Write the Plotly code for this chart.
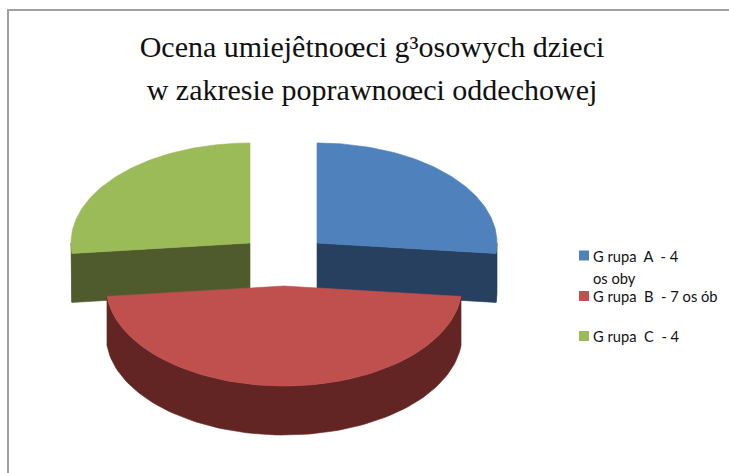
import numpy as np
import plotly.graph_objects as go

# Data
groups = ["Grupa A", "Grupa B", "Grupa C"]
values = [4, 7, 4]
legend_lines = [["G rupa  A  - 4", "os oby"], ["G rupa  B  - 7 os ób"], ["G rupa  C  - 4"]]
top_colors = ["#4F81BD", "#C0504D", "#9BBB59"]
wall_colors = ["#28405F", "#632523", "#4F5B2C"]
title_lines = ["Ocena umiejêtnoœci g³osowych dzieci", "w zakresie poprawnoœci oddechowej"]

W, H = 729, 473
DEPTH = 49
RX = [180, 178, 179]
RY = [100, 100, 100]
CENTERS = [(317, 243), (284, 286), (250, 243)]

total = sum(values)
edges = np.concatenate([[0], np.cumsum(values)]) / total * 2 * np.pi


def arc(i, a0, a1, n=90):
    t = np.linspace(a0, a1, n)
    cx, cy = CENTERS[i]
    return cx + RX[i] * np.sin(t), cy - RY[i] * np.cos(t)


def wedge_top(i):
    x, y = arc(i, edges[i], edges[i + 1])
    cx, cy = CENTERS[i]
    return np.r_[cx, x, cx], np.r_[cy, y, cy]


def cut_face(i, a):
    x, y = arc(i, a, a, 1)
    cx, cy = CENTERS[i]
    return (np.r_[cx, x, x, cx, cx],
            np.r_[cy, y, y + DEPTH, cy + DEPTH, cy])


def outer_wall(i):
    a0 = max(edges[i], np.pi / 2)
    a1 = min(edges[i + 1], 3 * np.pi / 2)
    x, y = arc(i, a0, a1)
    return np.r_[x, x[::-1], x[0]], np.r_[y, y[::-1] + DEPTH, y[0]]


fig = go.Figure()


def poly(xy, color, name):
    fig.add_trace(go.Scatter(x=xy[0], y=xy[1], mode="lines", fill="toself",
                             fillcolor=color, line=dict(width=0.6, color=color),
                             hoverinfo="skip", showlegend=False, name=name))


# back pair first, red wedge on top of both
for i, a in [(0, edges[1]), (2, edges[2])]:
    poly(outer_wall(i), wall_colors[i], groups[i])
    poly(cut_face(i, a), wall_colors[i], groups[i])
    poly(wedge_top(i), top_colors[i], groups[i])
poly(outer_wall(1), wall_colors[1], groups[1])
poly(wedge_top(1), top_colors[1], groups[1])

# legend
LEG_X, LEG_Y = 584, [255.5, 296, 336]
fig.add_trace(go.Scatter(x=[LEG_X] * 3, y=LEG_Y, mode="markers",
                         marker=dict(symbol="square", size=10, color=top_colors),
                         hoverinfo="skip", showlegend=False))
annotations = []
for y0, lines in zip(LEG_Y, legend_lines):
    for k, line in enumerate(lines):
        annotations.append(dict(x=593, y=y0 + k * 22, text=line, xref="x", yref="y",
                                xanchor="left", yanchor="middle", showarrow=False,
                                xshift=-2,
                                font=dict(family="Lato", size=14.7, color="#111111")))

title_html = "<br>".join(f'<span style="font-size:30px">{t}</span>' for t in title_lines)

fig.update_layout(
    width=W, height=H, margin=dict(l=0, r=0, t=0, b=0),
    paper_bgcolor="white", plot_bgcolor="white", showlegend=False,
    title=dict(text=title_html, x=372 / W, xanchor="center",
               y=1 - 57 / H, yanchor="top",
               font=dict(family="Liberation Serif", size=33, color="#111111")),
    xaxis=dict(range=[0, W], visible=False, fixedrange=True),
    yaxis=dict(range=[H, 0], visible=False, fixedrange=True),
    annotations=annotations,
    shapes=[
        dict(type="line", xref="x", yref="y", x0=7, x1=W, y0=10, y1=10,
             line=dict(color="#A0A0A0", width=2)),
        dict(type="line", xref="x", yref="y", x0=8, x1=8, y0=10, y1=H,
             line=dict(color="#A0A0A0", width=2)),
    ],
)

fig.write_html("out.html", config={"displayModeBar": False},
               post_script="document.body.style.margin='0';")
